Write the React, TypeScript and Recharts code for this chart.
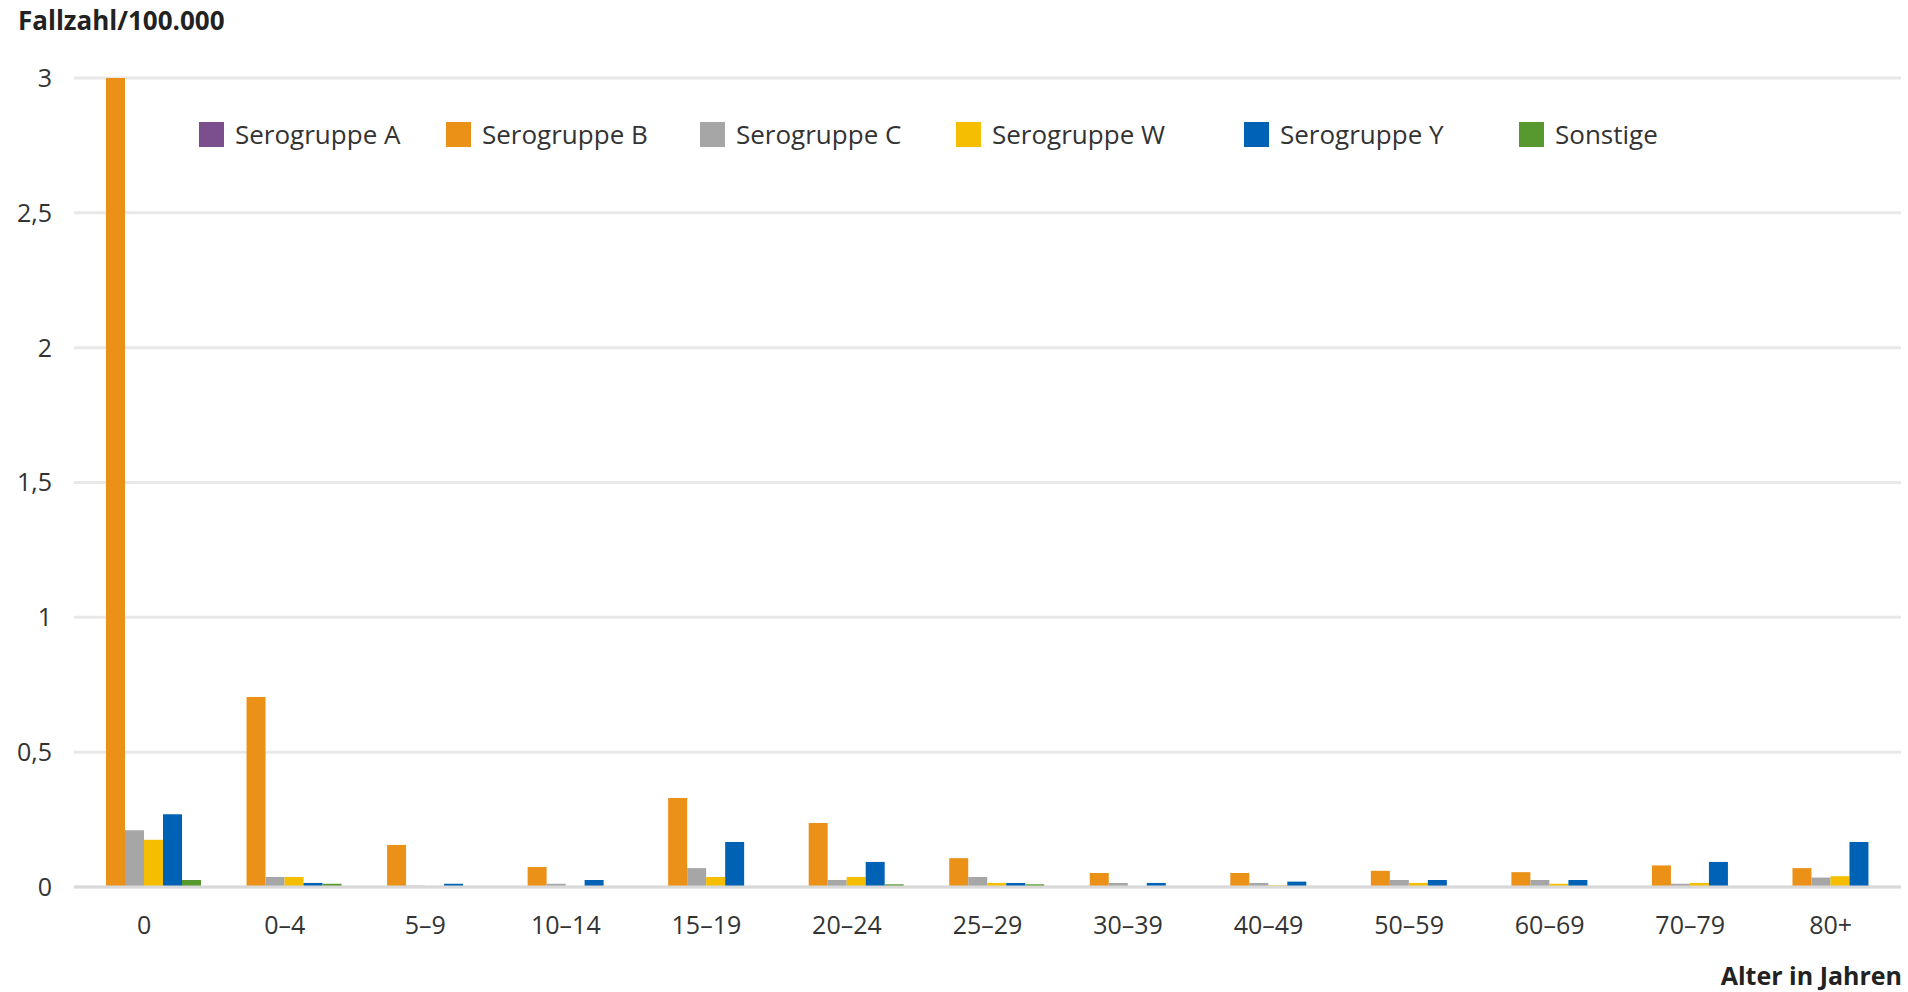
import React from "react";
import { BarChart, Bar, XAxis, YAxis, CartesianGrid, Legend } from "recharts";

const ageGroups = ["0", "0–4", "5–9", "10–14", "15–19", "20–24", "25–29", "30–39", "40–49", "50–59", "60–69", "70–79", "80+"];

const seroA = [0, 0.002, 0, 0, 0, 0, 0, 0, 0, 0, 0, 0, 0];
const seroB = [3.0, 0.705, 0.156, 0.074, 0.33, 0.237, 0.107, 0.052, 0.052, 0.06, 0.055, 0.08, 0.07];
const seroC = [0.21, 0.037, 0.005, 0.012, 0.07, 0.026, 0.037, 0.015, 0.015, 0.026, 0.026, 0.012, 0.035];
const seroW = [0.175, 0.037, 0, 0, 0.037, 0.037, 0.015, 0, 0.006, 0.015, 0.012, 0.015, 0.04];
const seroY = [0.27, 0.015, 0.012, 0.026, 0.167, 0.093, 0.015, 0.015, 0.02, 0.026, 0.026, 0.093, 0.167];
const sonstige = [0.026, 0.012, 0, 0, 0.003, 0.01, 0.01, 0, 0, 0, 0, 0, 0.002];

const yTicks = [0, 0.5, 1, 1.5, 2, 2.5, 3];

const chartData = ageGroups.map((age, i) => ({
  age,
  a: seroA[i],
  b: seroB[i],
  c: seroC[i],
  w: seroW[i],
  y: seroY[i],
  s: sonstige[i],
}));

// legend slots in the original are not evenly spaced
const legendSlots = [247, 254, 256, 288, 275, 200];

const textColor = "#333";
const font = "'Open Sans', sans-serif";

const renderLegend = (props: any) => {
  const items = props.payload || [];
  return (
    <div style={{ display: "flex", fontFamily: font, fontSize: 26, color: textColor }}>
      {items.map((item: any, i: number) => (
        <div key={item.value} style={{ display: "flex", alignItems: "center", width: legendSlots[i] }}>
          <span style={{ display: "inline-block", width: 25, height: 25, background: item.color, marginRight: 11 }} />
          <span style={{ lineHeight: "25px" }}>{item.value}</span>
        </div>
      ))}
    </div>
  );
};

const fmt = (v: number) => String(v).replace(".", ",");

export default function App() {
  return (
    <div style={{ position: "absolute", left: 0, top: 0, width: 1908, height: 992, background: "#fff", fontFamily: font }}>
      <div
        style={{
          position: "absolute",
          left: 18,
          top: 2,
          fontSize: 26,
          fontWeight: 700,
          color: "#222",
          lineHeight: "36px",
        }}
      >
        Fallzahl/100.000
      </div>
      <div
        style={{
          position: "absolute",
          right: 6,
          top: 957,
          fontSize: 25,
          fontWeight: 700,
          color: "#222",
          lineHeight: "36px",
        }}
      >
        Alter in Jahren
      </div>
      <BarChart
        width={1908}
        height={992}
        data={chartData}
        margin={{ top: 78, right: 7, bottom: 0, left: 0 }}
        barCategoryGap={13}
        barGap={0}
      >
        <CartesianGrid vertical={false} stroke="#e8e8e8" strokeWidth={3} />
        <XAxis
          dataKey="age"
          height={105}
          tickLine={false}
          axisLine={{ stroke: "#d9d9d9", strokeWidth: 3 }}
          tickMargin={23}
          interval={0}
          tick={{ fill: textColor, fontSize: 25, fontFamily: font }}
        />
        <YAxis
          width={74}
          domain={[0, 3]}
          ticks={yTicks}
          tickFormatter={fmt}
          axisLine={false}
          tickLine={false}
          tickMargin={16}
          tick={{ fill: textColor, fontSize: 25, fontFamily: font }}
        />
        <Legend
          layout="horizontal"
          verticalAlign="middle"
          align="center"
          content={renderLegend}
          wrapperStyle={{ top: 122, left: 199, width: 1600, height: 25 }}
        />
        <Bar dataKey="a" name="Serogruppe A" fill="#7B4F8E" isAnimationActive={false} />
        <Bar dataKey="b" name="Serogruppe B" fill="#EB9117" isAnimationActive={false} />
        <Bar dataKey="c" name="Serogruppe C" fill="#A6A6A6" isAnimationActive={false} />
        <Bar dataKey="w" name="Serogruppe W" fill="#F5BF00" isAnimationActive={false} />
        <Bar dataKey="y" name="Serogruppe Y" fill="#0062B5" isAnimationActive={false} />
        <Bar dataKey="s" name="Sonstige" fill="#57992F" isAnimationActive={false} />
      </BarChart>
    </div>
  );
}
